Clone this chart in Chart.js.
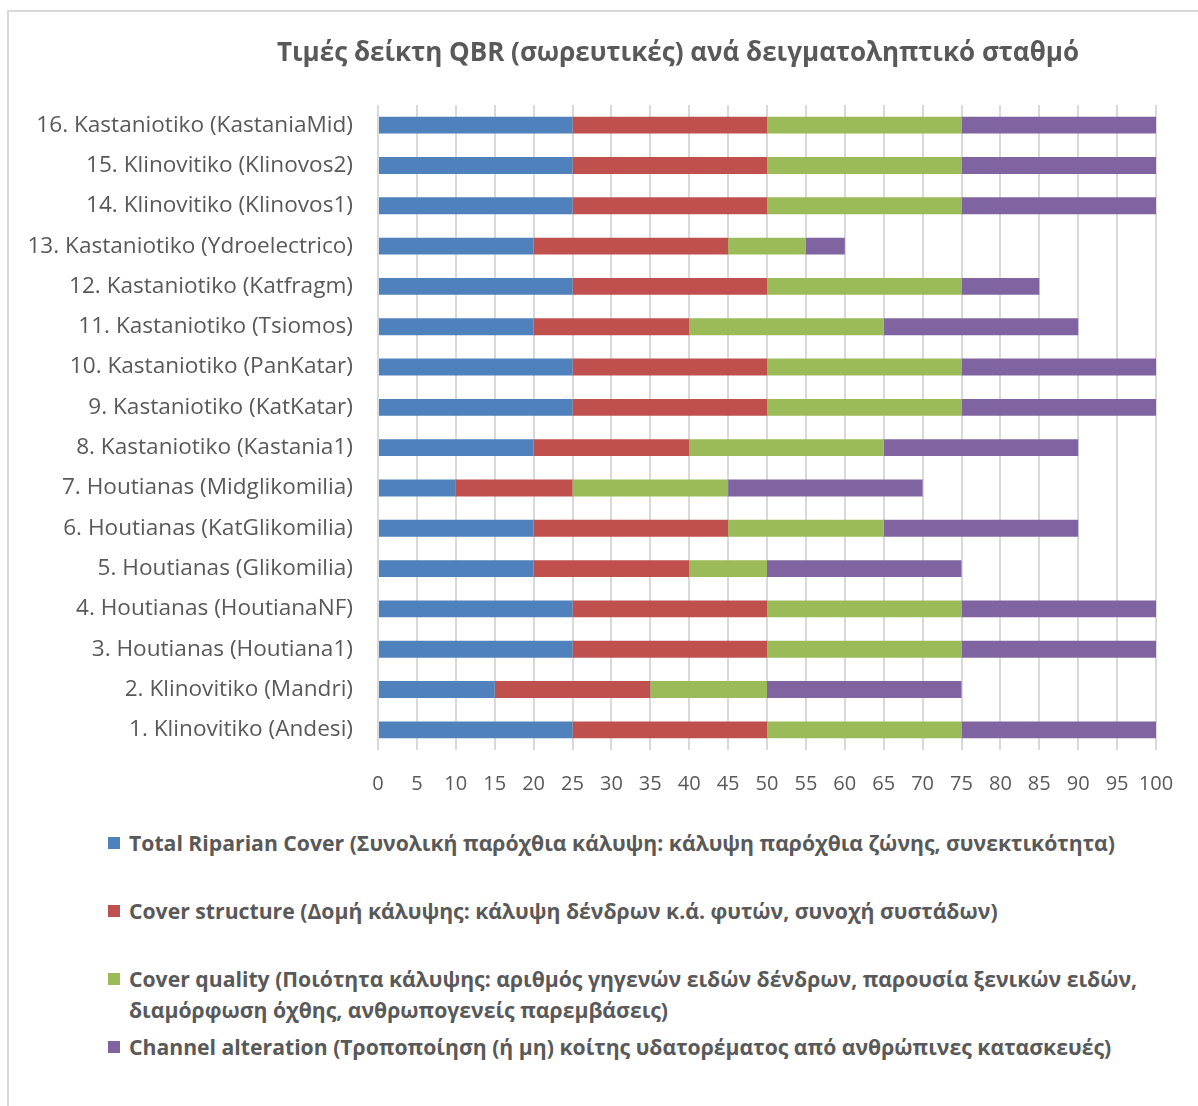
<!DOCTYPE html>
<html lang="el">
<head>
<meta charset="UTF-8">
<title>QBR</title>
<script src="https://cdn.jsdelivr.net/npm/chart.js"></script>
<style>
  html, body { margin: 0; padding: 0; background: #fff; overflow: hidden; }
  body { width: 1198px; height: 1106px; position: relative; font-family: "Open Sans", sans-serif; }
  #frame { position: absolute; left: 7px; top: 10px; width: 1300px; height: 1094px;
           border-left: 2px solid #d9d9d9; border-top: 2px solid #d9d9d9; }
  #qbrChart { position: absolute; left: 0; top: 0; }
  #title { position: absolute; left: 0; width: 1356px; top: 33px; line-height: 36px; text-align: center;
           color: #595959; font-weight: bold; font-size: 26px; white-space: nowrap; }
  .leg { position: absolute; left: 108px; color: #595959; font-weight: bold; font-size: 21.2px; line-height: 31px; white-space: nowrap; }
  .leg .box { position: absolute; left: 0; top: 10px; width: 12px; height: 12px; }
  .leg .txt { margin-left: 21px; }
</style>
</head>
<body>
<div id="frame"></div>
<canvas id="qbrChart" width="1198" height="827"></canvas>
<div id="title">Τιμές δείκτη QBR (σωρευτικές) ανά δειγματοληπτικό σταθμό</div>
<div id="legend"></div>

<script>
// stations, bottom (1) to top (16)
const stations = [
    "1. Klinovitiko (Andesi)",
    "2. Klinovitiko (Mandri)",
    "3. Houtianas (Houtiana1)",
    "4. Houtianas (HoutianaNF)",
    "5. Houtianas (Glikomilia)",
    "6. Houtianas (KatGlikomilia)",
    "7. Houtianas (Midglikomilia)",
    "8. Kastaniotiko (Kastania1)",
    "9. Kastaniotiko (KatKatar)",
    "10. Kastaniotiko (PanKatar)",
    "11. Kastaniotiko (Tsiomos)",
    "12. Kastaniotiko (Katfragm)",
    "13. Kastaniotiko (Ydroelectrico)",
    "14. Klinovitiko (Klinovos1)",
    "15. Klinovitiko (Klinovos2)",
    "16. Kastaniotiko (KastaniaMid)"
];

const totalRiparianCover = [25, 15, 25, 25, 20, 20, 10, 20, 25, 25, 20, 25, 20, 25, 25, 25];
const coverStructure     = [25, 20, 25, 25, 20, 25, 15, 20, 25, 25, 20, 25, 25, 25, 25, 25];
const coverQuality       = [25, 15, 25, 25, 10, 20, 20, 25, 25, 25, 25, 25, 10, 25, 25, 25];
const channelAlteration  = [25, 25, 25, 25, 25, 25, 25, 25, 25, 25, 25, 10,  5, 25, 25, 25];

const seriesNames = [
    "Total Riparian Cover (Συνολική παρόχθια κάλυψη: κάλυψη παρόχθια ζώνης, συνεκτικότητα)",
    "Cover structure (Δομή κάλυψης: κάλυψη  δένδρων κ.ά. φυτών, συνοχή συστάδων)",
    "Cover quality (Ποιότητα  κάλυψης: αριθμός γηγενών ειδών δένδρων, παρουσία ξενικών ειδών,\nδιαμόρφωση όχθης, ανθρωπογενείς παρεμβάσεις)",
    "Channel alteration (Τροποποίηση (ή μη) κοίτης υδατορέματος από ανθρώπινες κατασκευές)"
];
const seriesColors = ["#4F81BD", "#C0504D", "#9BBB59", "#8064A2"];

const xTicks = { min: 0, max: 100, step: 5 };

const txt = "#595959";
const fontFam = "'Open Sans', sans-serif";

const chart = new Chart(document.getElementById("qbrChart"), {
    type: "bar",
    data: {
        labels: stations,
        datasets: [totalRiparianCover, coverStructure, coverQuality, channelAlteration].map((d, i) => ({
            label: seriesNames[i],
            data: d,
            backgroundColor: seriesColors[i],
            borderWidth: 0,
            barPercentage: 0.42,
            categoryPercentage: 1
        }))
    },
    options: {
        indexAxis: "y",
        responsive: false,
        animation: false,
        layout: { padding: { left: 10, right: 42, top: 105, bottom: 9 } },
        plugins: {
            legend: { display: false },
            tooltip: { enabled: false }
        },
        scales: {
            x: {
                stacked: true,
                min: xTicks.min,
                max: xTicks.max,
                ticks: { stepSize: xTicks.step, color: txt, font: { family: fontFam, size: 20 }, padding: 22, maxRotation: 0, autoSkip: false },
                grid: { color: "#d9d9d9", lineWidth: 2, drawTicks: false },
                border: { display: false }
            },
            y: {
                stacked: true,
                reverse: true,
                ticks: { color: txt, font: { family: fontFam, size: 22.6 }, padding: 25 },
                grid: { display: false, drawTicks: false },
                border: { display: false },
                afterFit: s => { s.width = 368; }
            }
        }
    }
});

// legend below the chart, built from the datasets
const legendTops = [827, 895, 963, 1031];
const legendEl = document.getElementById("legend");
chart.data.datasets.forEach((ds, i) => {
    const item = document.createElement("div");
    item.className = "leg";
    item.style.top = legendTops[i] + "px";
    const box = document.createElement("span");
    box.className = "box";
    box.style.background = ds.backgroundColor;
    const label = document.createElement("div");
    label.className = "txt";
    label.innerHTML = ds.label.replace("\n", "<br>");
    item.appendChild(box);
    item.appendChild(label);
    legendEl.appendChild(item);
});
</script>
</body>
</html>
